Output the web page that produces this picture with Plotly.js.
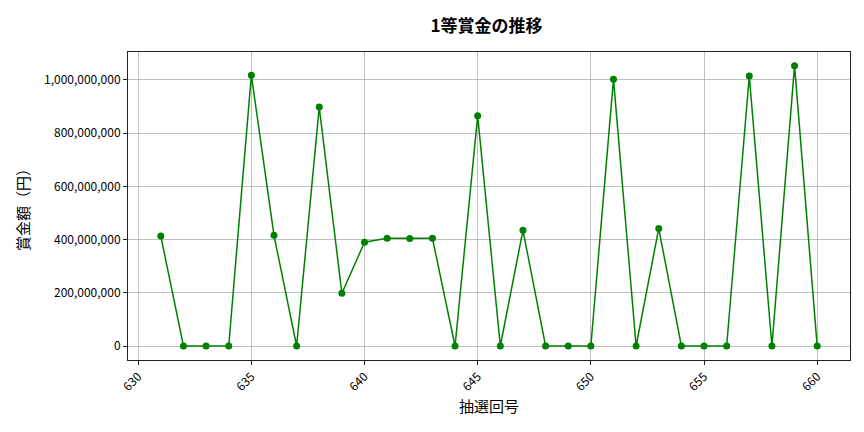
<!DOCTYPE html>
<html><head><meta charset="utf-8">
<script src="https://cdn.plot.ly/plotly-3.0.1.min.js"></script>
<style>html,body{margin:0;padding:0;background:#fff}#c{width:864px;height:432px}</style>
</head><body><div id="c"></div>
<script>
const draws = [631,632,633,634,635,636,637,638,639,640,641,642,643,644,645,646,647,648,649,650,651,652,653,654,655,656,657,658,659,660];
const prizes = [413000000,0,0,0,1018000000,416000000,0,898000000,198000000,390000000,405000000,404000000,405000000,0,865000000,0,435000000,0,0,0,1003000000,0,442000000,0,0,0,1015000000,0,1053000000,0];
const xTicks = [630,635,640,645,650,655,660];
const yTicks = [0,200000000,400000000,600000000,800000000,1000000000];
const yTickText = yTicks.map(v => v.toLocaleString('en-US'));

const font = "'Noto Sans CJK JP', 'Noto Sans', sans-serif";
Plotly.newPlot('c', [{
  x: draws, y: prizes, type: 'scatter', mode: 'lines+markers',
  line: {color: 'green', width: 1.5},
  marker: {color: 'green', size: 7}
}], {
  width: 864, height: 432,
  margin: {l: 128, r: 14, t: 52, b: 72},
  paper_bgcolor: '#fff', plot_bgcolor: '#fff',
  font: {family: font, color: '#000', size: 12},
  title: {text: '<b>1等賞金の推移</b>', font: {size: 17, family: font}, x: 0.563, xanchor: 'center', y: 0.94, yanchor: 'middle'},
  xaxis: {
    range: [629.55, 661.45], tickvals: xTicks, ticktext: xTicks.map(String), tickangle: -45,
    showgrid: true, gridcolor: '#b0b0b0', gridwidth: 0.8, zeroline: false,
    showline: true, linecolor: '#222', linewidth: 1, mirror: true,
    ticks: 'outside', ticklen: 4, tickcolor: '#222',
    title: {text: '抽選回号', font: {size: 15}, standoff: 8}
  },
  yaxis: {
    range: [-52600000, 1105000000], tickvals: yTicks, ticktext: yTickText,
    showgrid: true, gridcolor: '#b0b0b0', gridwidth: 0.8, zeroline: false,
    showline: true, linecolor: '#222', linewidth: 1, mirror: true,
    ticks: 'outside', ticklen: 4, tickcolor: '#222',
    title: {text: '賞金額（円）', font: {size: 15}, standoff: 10}
  },
  showlegend: false
}, {staticPlot: true});
</script></body></html>
